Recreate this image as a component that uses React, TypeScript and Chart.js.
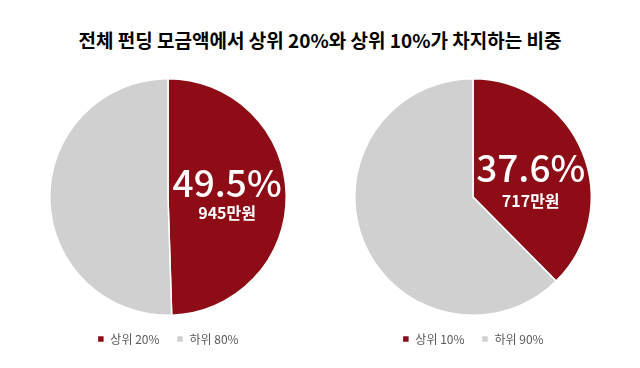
import React, { useEffect, useRef } from "react";
import { Chart, registerables } from "chart.js";

Chart.register(...registerables);

const TITLE = "전체 펀딩 모금액에서 상위 20%와 상위 10%가 차지하는 비중";
const LEFT_LABELS = ["상위 20%", "하위 80%"];
const LEFT_VALUES = [49.5, 50.5];
const LEFT_AMOUNT = "945만원";
const RIGHT_LABELS = ["상위 10%", "하위 90%"];
const RIGHT_VALUES = [37.6, 62.4];
const RIGHT_AMOUNT = "717만원";

const RED = "#8E0C15";
const GRAY = "#D0D0D0";
const FONT = "'Noto Sans CJK KR', 'Noto Sans', sans-serif";

function makeLabelPlugin(amount: string, dx: number, dyPct: number, dyAmt: number) {
  return {
    id: "sliceLabel",
    afterDatasetsDraw(chart: any) {
      const meta = chart.getDatasetMeta(0);
      const arc = meta.data[0];
      if (!arc) return;
      const { x, y, startAngle, endAngle, outerRadius } = arc.getProps(
        ["x", "y", "startAngle", "endAngle", "outerRadius"],
        true
      );
      const mid = (startAngle + endAngle) / 2;
      const r = outerRadius * 0.5;
      const px = x + Math.cos(mid) * r + dx;
      const py = y + Math.sin(mid) * r;
      const value = chart.data.datasets[0].data[0];
      const ctx = chart.ctx;
      ctx.save();
      ctx.fillStyle = "#FFFFFF";
      ctx.textAlign = "center";
      ctx.textBaseline = "middle";
      ctx.font = `500 37px ${FONT}`;
      ctx.fillText(`${value.toFixed(1)}%`, px, py + dyPct);
      ctx.font = `700 16px ${FONT}`;
      ctx.fillText(amount, px, py + dyAmt);
      ctx.restore();
    },
  };
}

function PieChart(props: {
  labels: string[];
  values: number[];
  amount: string;
  dx: number;
  dyPct: number;
  dyAmt: number;
}) {
  const ref = useRef<HTMLCanvasElement>(null);
  useEffect(() => {
    if (!ref.current) return;
    const chart = new Chart(ref.current, {
      type: "pie",
      data: {
        labels: props.labels,
        datasets: [
          {
            data: props.values,
            backgroundColor: [RED, GRAY],
            borderColor: "#FFFFFF",
            borderWidth: 1.5,
          },
        ],
      },
      options: {
        animation: false,
        responsive: false,
        maintainAspectRatio: false,
        layout: { padding: 0 },
        plugins: {
          legend: {
            position: "bottom",
            labels: {
              boxWidth: 7,
              boxHeight: 7,
              padding: 17,
              color: "#595959",
              font: { size: 12, family: FONT },
            },
          },
          tooltip: { enabled: false },
          title: { display: false },
        },
      },
      plugins: [makeLabelPlugin(props.amount, props.dx, props.dyPct, props.dyAmt)],
    });
    return () => chart.destroy();
  }, []);
  return <canvas ref={ref} width={300} height={277} />;
}

export default function App() {
  useEffect(() => {
    document.body.style.margin = "0";
  }, []);
  return (
    <div style={{ position: "relative", width: 640, height: 368, background: "#FFFFFF", overflow: "hidden" }}>
      <div
        style={{
          position: "absolute",
          left: 0,
          top: 26,
          width: 640,
          textAlign: "center",
          fontFamily: FONT,
          fontWeight: 700,
          fontSize: 19,
          lineHeight: "28px",
          color: "#000000",
        }}
      >
        {TITLE}
      </div>
      <div style={{ position: "absolute", left: 18, top: 78 }}>
        <PieChart labels={LEFT_LABELS} values={LEFT_VALUES} amount={LEFT_AMOUNT} dx={0} dyPct={-13} dyAmt={17} />
      </div>
      <div style={{ position: "absolute", left: 323, top: 78 }}>
        <PieChart labels={RIGHT_LABELS} values={RIGHT_VALUES} amount={RIGHT_AMOUNT} dx={3} dyPct={-7} dyAmt={26} />
      </div>
    </div>
  );
}
